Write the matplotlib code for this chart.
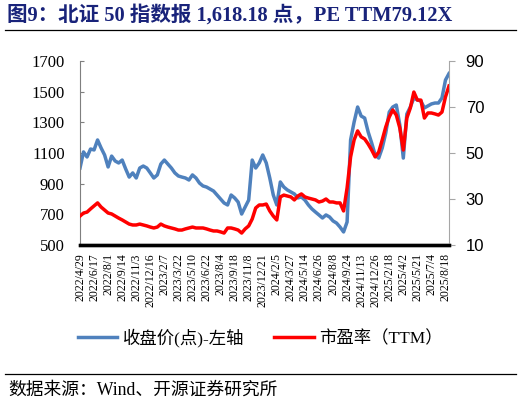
import matplotlib
matplotlib.use("Agg")
import matplotlib.pyplot as plt
from matplotlib.lines import Line2D

serif_cjk = ['Liberation Serif', 'Noto Sans CJK SC']
sans_cjk = ['Liberation Sans', 'Noto Sans CJK SC']

# date labels shown on the x axis (every 4th point)
date_labels = ['2022/4/29', '2022/6/17', '2022/8/1', '2022/9/14', '2022/11/3',
               '2022/12/16', '2023/2/7', '2023/3/22', '2023/5/10', '2023/6/22',
               '2023/8/4', '2023/9/18', '2023/11/8', '2023/12/21', '2024/2/5',
               '2024/3/27', '2024/5/14', '2024/6/26', '2024/8/8', '2024/9/24',
               '2024/11/13', '2024/12/26', '2025/2/18', '2025/4/2', '2025/5/21',
               '2025/7/4', '2025/8/18']
label_step = 4

# 北证50 close (points), left axis
close = [1002, 1107, 1074, 1126, 1120, 1185, 1133, 1087, 1009, 1080,
         1048, 1035, 1054, 996, 943, 970, 937, 1002, 1015, 1002,
         970, 937, 957, 1028, 1054, 1028, 1002, 970, 950, 943,
         937, 924, 957, 937, 904, 885, 878, 865, 852, 826,
         800, 774, 761, 826, 807, 780, 702, 748, 793, 1054,
         1002, 1035, 1087, 1035, 937, 826, 761, 911, 878, 859,
         846, 833, 807, 813, 793, 761, 735, 715, 696, 676,
         696, 683, 657, 643, 617, 585, 650, 1185, 1302, 1400,
         1341, 1328, 1237, 1165, 1087, 1067, 1133, 1230, 1367, 1400,
         1413, 1283, 1067, 1354, 1400, 1459, 1446, 1439, 1394, 1407,
         1420, 1426, 1426, 1459, 1576, 1618.18]

# PE TTM, right axis
pe = [22.6, 23.9, 24.3, 25.7, 27.0, 28.3, 26.5, 25.2, 23.9, 23.5,
      22.6, 21.7, 20.9, 20.0, 19.1, 18.7, 18.7, 19.1, 18.7, 18.3,
      17.8, 17.4, 17.8, 19.1, 18.3, 17.8, 17.4, 17.0, 16.5, 16.5,
      17.0, 17.4, 17.8, 17.4, 17.4, 17.4, 17.0, 16.5, 16.1, 16.1,
      15.7, 15.2, 17.4, 17.4, 17.0, 16.5, 15.2, 17.0, 18.3, 21.3,
      26.1, 27.4, 27.4, 27.8, 24.8, 22.6, 20.9, 30.9, 31.7, 31.3,
      30.9, 29.6, 31.3, 32.2, 30.9, 30.4, 30.0, 29.6, 28.7, 29.1,
      30.0, 28.7, 28.7, 28.3, 28.3, 24.8, 34.8, 48.3, 55.7, 59.6,
      57.0, 56.1, 53.9, 51.3, 48.3, 50.4, 55.7, 61.3, 65.7, 68.7,
      66.5, 60.9, 51.3, 65.2, 69.6, 76.5, 73.0, 73.0, 65.2, 67.4,
      67.4, 67.0, 66.5, 67.8, 74.4, 79.12]

x = list(range(len(close)))

W, H = 522, 404
fig = plt.figure(figsize=(W / 100, H / 100), dpi=100)
ax = fig.add_axes([80 / W, 1 - 245 / H, 369 / W, 184 / H])
ax2 = ax.twinx()

ax.plot(x, close, color='#4F81BD', lw=2.5, solid_joinstyle='round')
ax2.plot(x, pe, color='#FF0000', lw=2.5, solid_joinstyle='round')

ax.set_xlim(0, len(close) - 1)
ax.set_ylim(500, 1700)
ax.set_yticks(range(500, 1701, 200))
ax2.set_ylim(10, 90)
ax2.set_yticks(range(10, 91, 20))

ax.set_xticks(range(0, len(date_labels) * label_step, label_step))
ax.set_xticklabels(date_labels, rotation=90, family=serif_cjk, fontsize=8.5)
ax.tick_params(axis='x', length=0, pad=6)
ax.tick_params(axis='y', direction='in', length=3, color='#7F7F7F', pad=11)
for t in ax.get_yticklabels():
    t.set_family(serif_cjk)
    t.set_fontsize(12)
ax2.tick_params(axis='y', direction='out', length=4, color='#A6A6A6', pad=8)
for t in ax2.get_yticklabels():
    t.set_family(sans_cjk)
    t.set_fontsize(12)

for a in (ax, ax2):
    a.spines['top'].set_visible(False)
    a.spines['bottom'].set_color('black')
    a.spines['bottom'].set_linewidth(2.4)
    a.spines['left'].set_color('#7F7F7F')
    a.spines['right'].set_color('#A6A6A6')
ax2.spines['left'].set_visible(False)
ax.spines['right'].set_visible(False)
ax2.spines['bottom'].set_zorder(5)

# title and rules
fig.text(7 / W, 1 - 15 / H, '图9：北证 50 指数报 1,618.18 点，PE TTM79.12X',
         family=serif_cjk, fontsize=14.8, fontweight='bold', color='#19237A',
         va='center', ha='left')
fig.add_artist(Line2D([5 / W, 516 / W], [1 - 30 / H, 1 - 30 / H], color='black', lw=0.9))
fig.add_artist(Line2D([5 / W, 516 / W], [1 - 374 / H, 1 - 374 / H], color='black', lw=0.9))
fig.text(8 / W, 1 - 390 / H, '数据来源：Wind、开源证券研究所',
         family=serif_cjk, fontsize=12.8, va='center', ha='left')

handles = [Line2D([], [], color='#4F81BD', lw=2.5),
           Line2D([], [], color='#FF0000', lw=2.5)]
fig.legend(handles, ['收盘价(点)-左轴', '市盈率（TTM）'], loc='center',
           bbox_to_anchor=(260 / W, 1 - 338 / H), ncol=2, frameon=False,
           prop={'family': serif_cjk, 'size': 12.5}, handlelength=2.3,
           handletextpad=0.3, columnspacing=1.7)

fig.savefig('out.png', dpi=100)
